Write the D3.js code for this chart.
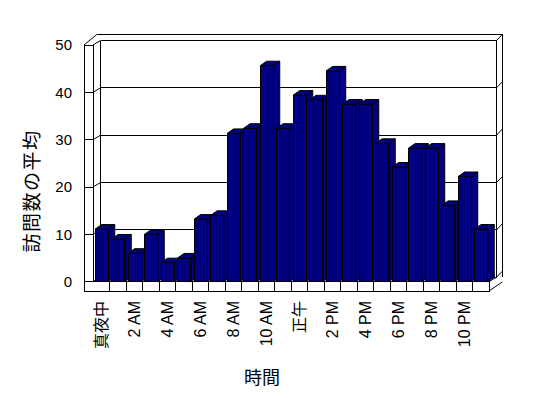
<!DOCTYPE html>
<html><head><meta charset="utf-8">
<script src="https://cdn.jsdelivr.net/npm/d3@7"></script>
<style>
html,body{margin:0;padding:0;background:#fff;}
text{font-family:"Liberation Sans","Noto Sans CJK JP",Arial,sans-serif;fill:#000;}
</style></head>
<body>
<svg id="c" width="548" height="398"></svg>
<script>
const categories = ["真夜中","1 AM","2 AM","3 AM","4 AM","5 AM","6 AM","7 AM","8 AM","9 AM","10 AM","11 AM",
  "正午","1 PM","2 PM","3 PM","4 PM","5 PM","6 PM","7 PM","8 PM","9 PM","10 PM","11 PM"];
const visits = [11.1, 9, 6, 10, 4, 5, 13.2, 14, 31.3, 32.4, 45.6, 32.4,
  39.4, 38.4, 44.5, 37.5, 37.5, 29.2, 24.2, 28.2, 28.2, 16.1, 22.2, 11.1];
const tickLabels = ["真夜中","2 AM","4 AM","6 AM","8 AM","10 AM","正午","2 PM","4 PM","6 PM","8 PM","10 PM"];
const yTicks = [0,10,20,30,40,50];
const xTitle = "時間";
const yTitle = "訪問数の平均";

const svg = d3.select("#c");
const wallOuterX = 84, floorBottom = 291;
const x = d3.scaleBand().domain(categories).range([93, 489]).padding(0);
const y = d3.scaleLinear().domain([0,50]).range([281.7, 45]);
const D = [7.5, -4.5];      // depth of plot
const T = [5.8, -6];        // back-wall thickness
const B = [6.5, -4.6];      // bar depth
const x0 = x.range()[0], x1 = x.range()[1];
const bx0 = x0 + D[0], bx1 = x1 + D[0];
const yb = v => y(v) + D[1];

const g = svg.append("g").attr("fill","none").attr("stroke","#000").attr("stroke-width",1);
const line = (pts) => g.append("path").attr("d", d3.line()(pts)).attr("shape-rendering","crispEdges");
const dline = (pts) => g.append("path").attr("d", d3.line()(pts));

// back wall outer (back face)
line([[wallOuterX + D[0] + T[0] - 0.5, y(50) + D[1] + T[1]],[bx1 + T[0], y(50)+D[1]+T[1]],[bx1+T[0], y(0)+T[1]+ 1]]);
// back wall front face
line([[bx0, yb(50)],[bx1, yb(50)],[bx1, yb(0)]]);
line([[bx0, yb(50)],[bx0, yb(0)]]);
dline([[bx1, yb(50)],[bx1+T[0], yb(50)+T[1]]]);
// left wall
line([[wallOuterX, y(50)],[wallOuterX, floorBottom]]);
line([[x0, y(50)],[x0, y(0)]]);
line([[wallOuterX, y(50)],[x0, y(50)]]);
dline([[wallOuterX, y(50)],[wallOuterX + D[0] + T[0] - 0.5, y(50) + D[1] + T[1]]]);
dline([[x0, y(50)],[bx0, yb(50)]]);

// gridlines
yTicks.forEach(v => {
  if (v === 50) return;
  line([[wallOuterX, y(v)],[x0, y(v)]]);
  dline([[x0, y(v)],[bx0, yb(v)]]);
  line([[bx0, yb(v)],[bx1, yb(v)]]);
  dline([[bx1, yb(v)],[bx1+T[0], yb(v)+T[1]]]);
});

// floor
line([[wallOuterX, floorBottom],[x1, floorBottom],[x1, y(0)],[x0, y(0)]]);
dline([[x1, floorBottom],[bx1 + T[0], floorBottom - 9]]);
dline([[x1, y(0)],[bx1, yb(0)]]);
categories.forEach((c,i) => {
  if (i === 0) return;
  line([[x(c), y(0)],[x(c), floorBottom]]);
});

// bars
const bw = x.bandwidth() * 0.8, boff = x.bandwidth() * 0.125;
const bars = svg.append("g").attr("fill","#000080").attr("stroke","#000").attr("stroke-width",1).attr("stroke-linejoin","miter");
categories.forEach((c,i) => {
  const v = visits[i];
  const l = x(c) + boff, r = l + bw, t = y(v), b = y(0);
  bars.append("path").attr("d", d3.line()([[r,b],[r+B[0],b+B[1]],[r+B[0],t+B[1]],[r,t]]) + "Z");
  bars.append("path").attr("d", d3.line()([[l,t],[l+B[0],t+B[1]],[r+B[0],t+B[1]],[r,t]]) + "Z");
  bars.append("rect").attr("x", l).attr("y", t).attr("width", bw).attr("height", b - t).attr("shape-rendering","crispEdges");
});

// y axis labels
const yAxis = d3.axisLeft(y).tickValues(yTicks).tickSize(0).tickPadding(12).tickFormat(d3.format("d"));
const ya = svg.append("g").attr("transform", `translate(${wallOuterX},0)`).call(yAxis);
ya.select(".domain").remove();
ya.selectAll("text").style("font-size","15px").style("font-family",null).attr("fill","#000");

// x labels
const xLab = svg.append("g");
tickLabels.forEach((lab,i) => {
  const c = categories[i*2];
  const cx = x(c) + x.bandwidth()/2;
  xLab.append("text").attr("transform", `translate(${cx},301) rotate(-90)`)
    .attr("text-anchor","end").attr("dominant-baseline","central")
    .style("font-size","16px").text(lab);
});

// titles
svg.append("text").attr("x", 262).attr("y", 378).attr("text-anchor","middle").attr("dominant-baseline","central")
  .style("font-size","18px").text(xTitle);
svg.append("text").attr("transform","translate(32,191) rotate(-90)").attr("text-anchor","middle").attr("dominant-baseline","central")
  .style("font-size","19px").style("letter-spacing","1.5px").text(yTitle);
</script>
</body></html>
